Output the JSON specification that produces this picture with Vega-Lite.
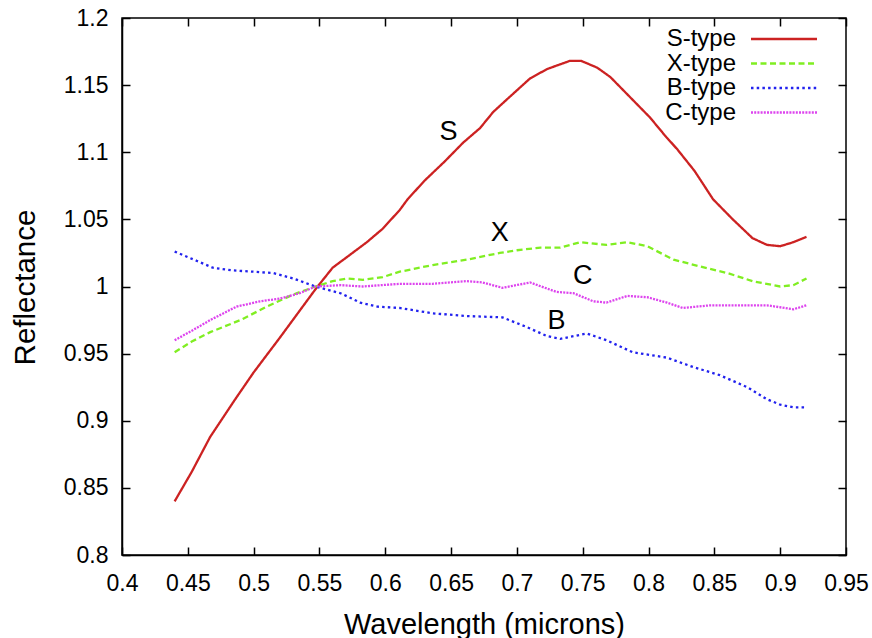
{
  "$schema": "https://vega.github.io/schema/vega-lite/v6.json",
  "width": 724,
  "height": 537,
  "autosize": {"type": "none"},
  "padding": {"left": 122, "top": 18, "right": 26, "bottom": 83},
  "background": "white",
  "config": {
    "font": "Liberation Sans",
    "view": {"stroke": "black", "strokeWidth": 1.5},
    "axis": {"grid": false, "domainColor": "black", "domainWidth": 1.5, "tickColor": "black", "tickWidth": 1.5, "labelColor": "black", "titleColor": "black", "labelFont": "Liberation Sans", "titleFont": "Liberation Sans", "labelFontSize": 23, "titleFontSize": 29, "titleFontWeight": "normal"}
  },
  "datasets": {
    "spectra": [
      {"type": "S-type", "wl": 0.44, "r": 0.840}, {"type": "S-type", "wl": 0.453, "r": 0.862}, {"type": "S-type", "wl": 0.467, "r": 0.888}, {"type": "S-type", "wl": 0.486, "r": 0.916}, {"type": "S-type", "wl": 0.50, "r": 0.936}, {"type": "S-type", "wl": 0.52, "r": 0.962}, {"type": "S-type", "wl": 0.535, "r": 0.982}, {"type": "S-type", "wl": 0.547, "r": 0.998}, {"type": "S-type", "wl": 0.56, "r": 1.014}, {"type": "S-type", "wl": 0.571, "r": 1.022}, {"type": "S-type", "wl": 0.586, "r": 1.033}, {"type": "S-type", "wl": 0.598, "r": 1.043}, {"type": "S-type", "wl": 0.611, "r": 1.057}, {"type": "S-type", "wl": 0.617, "r": 1.065}, {"type": "S-type", "wl": 0.63, "r": 1.079}, {"type": "S-type", "wl": 0.645, "r": 1.093}, {"type": "S-type", "wl": 0.659, "r": 1.107}, {"type": "S-type", "wl": 0.672, "r": 1.118}, {"type": "S-type", "wl": 0.682, "r": 1.130}, {"type": "S-type", "wl": 0.692, "r": 1.139}, {"type": "S-type", "wl": 0.71, "r": 1.155}, {"type": "S-type", "wl": 0.723, "r": 1.162}, {"type": "S-type", "wl": 0.74, "r": 1.168}, {"type": "S-type", "wl": 0.749, "r": 1.168}, {"type": "S-type", "wl": 0.761, "r": 1.163}, {"type": "S-type", "wl": 0.771, "r": 1.156}, {"type": "S-type", "wl": 0.786, "r": 1.141}, {"type": "S-type", "wl": 0.801, "r": 1.126}, {"type": "S-type", "wl": 0.812, "r": 1.113}, {"type": "S-type", "wl": 0.822, "r": 1.102}, {"type": "S-type", "wl": 0.835, "r": 1.086}, {"type": "S-type", "wl": 0.849, "r": 1.065}, {"type": "S-type", "wl": 0.864, "r": 1.050}, {"type": "S-type", "wl": 0.879, "r": 1.036}, {"type": "S-type", "wl": 0.89, "r": 1.031}, {"type": "S-type", "wl": 0.90, "r": 1.030}, {"type": "S-type", "wl": 0.91, "r": 1.033}, {"type": "S-type", "wl": 0.92, "r": 1.037},
      {"type": "X-type", "wl": 0.44, "r": 0.951}, {"type": "X-type", "wl": 0.453, "r": 0.959}, {"type": "X-type", "wl": 0.467, "r": 0.966}, {"type": "X-type", "wl": 0.49, "r": 0.975}, {"type": "X-type", "wl": 0.51, "r": 0.985}, {"type": "X-type", "wl": 0.53, "r": 0.994}, {"type": "X-type", "wl": 0.547, "r": 1.0}, {"type": "X-type", "wl": 0.56, "r": 1.004}, {"type": "X-type", "wl": 0.571, "r": 1.006}, {"type": "X-type", "wl": 0.583, "r": 1.005}, {"type": "X-type", "wl": 0.598, "r": 1.007}, {"type": "X-type", "wl": 0.611, "r": 1.011}, {"type": "X-type", "wl": 0.636, "r": 1.016}, {"type": "X-type", "wl": 0.662, "r": 1.020}, {"type": "X-type", "wl": 0.687, "r": 1.025}, {"type": "X-type", "wl": 0.70, "r": 1.027}, {"type": "X-type", "wl": 0.718, "r": 1.029}, {"type": "X-type", "wl": 0.733, "r": 1.029}, {"type": "X-type", "wl": 0.748, "r": 1.033}, {"type": "X-type", "wl": 0.768, "r": 1.031}, {"type": "X-type", "wl": 0.784, "r": 1.033}, {"type": "X-type", "wl": 0.799, "r": 1.030}, {"type": "X-type", "wl": 0.819, "r": 1.020}, {"type": "X-type", "wl": 0.839, "r": 1.015}, {"type": "X-type", "wl": 0.86, "r": 1.010}, {"type": "X-type", "wl": 0.879, "r": 1.004}, {"type": "X-type", "wl": 0.90, "r": 1.000}, {"type": "X-type", "wl": 0.91, "r": 1.001}, {"type": "X-type", "wl": 0.92, "r": 1.006},
      {"type": "B-type", "wl": 0.44, "r": 1.026}, {"type": "B-type", "wl": 0.457, "r": 1.019}, {"type": "B-type", "wl": 0.469, "r": 1.014}, {"type": "B-type", "wl": 0.484, "r": 1.012}, {"type": "B-type", "wl": 0.50, "r": 1.011}, {"type": "B-type", "wl": 0.515, "r": 1.010}, {"type": "B-type", "wl": 0.53, "r": 1.006}, {"type": "B-type", "wl": 0.547, "r": 1.0}, {"type": "B-type", "wl": 0.566, "r": 0.995}, {"type": "B-type", "wl": 0.581, "r": 0.988}, {"type": "B-type", "wl": 0.594, "r": 0.985}, {"type": "B-type", "wl": 0.611, "r": 0.984}, {"type": "B-type", "wl": 0.636, "r": 0.980}, {"type": "B-type", "wl": 0.662, "r": 0.978}, {"type": "B-type", "wl": 0.689, "r": 0.977}, {"type": "B-type", "wl": 0.707, "r": 0.970}, {"type": "B-type", "wl": 0.723, "r": 0.963}, {"type": "B-type", "wl": 0.733, "r": 0.961}, {"type": "B-type", "wl": 0.753, "r": 0.965}, {"type": "B-type", "wl": 0.768, "r": 0.960}, {"type": "B-type", "wl": 0.788, "r": 0.951}, {"type": "B-type", "wl": 0.814, "r": 0.947}, {"type": "B-type", "wl": 0.834, "r": 0.940}, {"type": "B-type", "wl": 0.854, "r": 0.934}, {"type": "B-type", "wl": 0.875, "r": 0.925}, {"type": "B-type", "wl": 0.89, "r": 0.916}, {"type": "B-type", "wl": 0.90, "r": 0.912}, {"type": "B-type", "wl": 0.91, "r": 0.910}, {"type": "B-type", "wl": 0.92, "r": 0.910},
      {"type": "C-type", "wl": 0.44, "r": 0.960}, {"type": "C-type", "wl": 0.453, "r": 0.967}, {"type": "C-type", "wl": 0.467, "r": 0.975}, {"type": "C-type", "wl": 0.487, "r": 0.985}, {"type": "C-type", "wl": 0.505, "r": 0.989}, {"type": "C-type", "wl": 0.52, "r": 0.991}, {"type": "C-type", "wl": 0.535, "r": 0.995}, {"type": "C-type", "wl": 0.547, "r": 1.0}, {"type": "C-type", "wl": 0.566, "r": 1.001}, {"type": "C-type", "wl": 0.583, "r": 1.000}, {"type": "C-type", "wl": 0.611, "r": 1.002}, {"type": "C-type", "wl": 0.636, "r": 1.002}, {"type": "C-type", "wl": 0.662, "r": 1.004}, {"type": "C-type", "wl": 0.674, "r": 1.003}, {"type": "C-type", "wl": 0.689, "r": 0.999}, {"type": "C-type", "wl": 0.71, "r": 1.003}, {"type": "C-type", "wl": 0.73, "r": 0.996}, {"type": "C-type", "wl": 0.743, "r": 0.995}, {"type": "C-type", "wl": 0.758, "r": 0.989}, {"type": "C-type", "wl": 0.768, "r": 0.988}, {"type": "C-type", "wl": 0.784, "r": 0.993}, {"type": "C-type", "wl": 0.799, "r": 0.992}, {"type": "C-type", "wl": 0.814, "r": 0.988}, {"type": "C-type", "wl": 0.826, "r": 0.984}, {"type": "C-type", "wl": 0.847, "r": 0.986}, {"type": "C-type", "wl": 0.864, "r": 0.986}, {"type": "C-type", "wl": 0.89, "r": 0.986}, {"type": "C-type", "wl": 0.91, "r": 0.983}, {"type": "C-type", "wl": 0.92, "r": 0.986}
    ],
    "labels": [
      {"label": "S", "wl": 0.648, "r": 1.115},
      {"label": "X", "wl": 0.687, "r": 1.040},
      {"label": "C", "wl": 0.750, "r": 1.008},
      {"label": "B", "wl": 0.730, "r": 0.974}
    ]
  },
  "layer": [
    {
      "data": {"name": "spectra"},
      "mark": {"type": "line", "strokeWidth": 2.3, "clip": true},
      "encoding": {
        "x": {"field": "wl", "type": "quantitative", "title": "Wavelength (microns)",
          "scale": {"domain": [0.4, 0.95], "nice": false, "zero": false},
          "axis": {"orient": "bottom", "values": [0.4, 0.45, 0.5, 0.55, 0.6, 0.65, 0.7, 0.75, 0.8, 0.85, 0.9, 0.95], "format": "~g", "tickSize": -8, "labelPadding": 25, "labelFontSize": 23, "titleFontSize": 29, "titleX": 362, "titleY": 78, "titleBaseline": "alphabetic", "labelFlush": false, "labelOverlap": false}},
        "y": {"field": "r", "type": "quantitative", "title": "Reflectance",
          "scale": {"domain": [0.8, 1.2], "nice": false, "zero": false},
          "axis": {"orient": "left", "values": [0.8, 0.85, 0.9, 0.95, 1.0, 1.05, 1.1, 1.15, 1.2], "format": "~g", "tickSize": -8, "labelPadding": 22, "labelFontSize": 23, "titleFontSize": 29.5, "titleX": -88, "titleY": 269, "titleAngle": 270, "titleAlign": "center", "titleBaseline": "alphabetic", "labelOverlap": false}},
        "color": {"field": "type", "type": "nominal",
          "scale": {"domain": ["S-type", "X-type", "B-type", "C-type"], "range": ["#cc2222", "#80ee22", "#2222ee", "#dd44ee"]},
          "legend": {"title": null, "orient": "none", "legendX": 650, "legendY": 9, "padding": 0, "symbolType": "M-6,0H6", "symbolSize": 121, "symbolStrokeWidth": 2.5, "labelFontSize": 24, "labelFont": "Liberation Sans", "labelColor": "black", "labelAlign": "right", "labelOffset": -60, "rowPadding": 0.5}},
        "strokeDash": {"field": "type", "type": "nominal",
          "scale": {"domain": ["S-type", "X-type", "B-type", "C-type"], "range": [[1, 0], [6, 3.5], [2.5, 3.2], [2, 1.2]]},
          "legend": {"title": null, "orient": "none", "legendX": 650, "legendY": 9, "padding": 0, "symbolType": "M-6,0H6", "symbolSize": 121, "symbolStrokeWidth": 2.5, "labelFontSize": 24, "labelFont": "Liberation Sans", "labelColor": "black", "labelAlign": "right", "labelOffset": -60, "rowPadding": 0.5}}
      }
    },
    {
      "data": {"name": "labels"},
      "mark": {"type": "text", "fontSize": 27, "font": "Liberation Sans", "color": "black", "align": "center", "baseline": "middle"},
      "encoding": {
        "x": {"field": "wl", "type": "quantitative", "axis": {"orient": "top", "values": [0.4, 0.45, 0.5, 0.55, 0.6, 0.65, 0.7, 0.75, 0.8, 0.85, 0.9, 0.95], "labels": false, "title": null, "tickSize": -8, "domain": false}},
        "y": {"field": "r", "type": "quantitative", "axis": {"orient": "right", "values": [0.8, 0.85, 0.9, 0.95, 1.0, 1.05, 1.1, 1.15, 1.2], "labels": false, "title": null, "tickSize": -8, "domain": false}},
        "text": {"field": "label"}
      }
    }
  ],
  "resolve": {"axis": {"x": "independent", "y": "independent"}}
}
